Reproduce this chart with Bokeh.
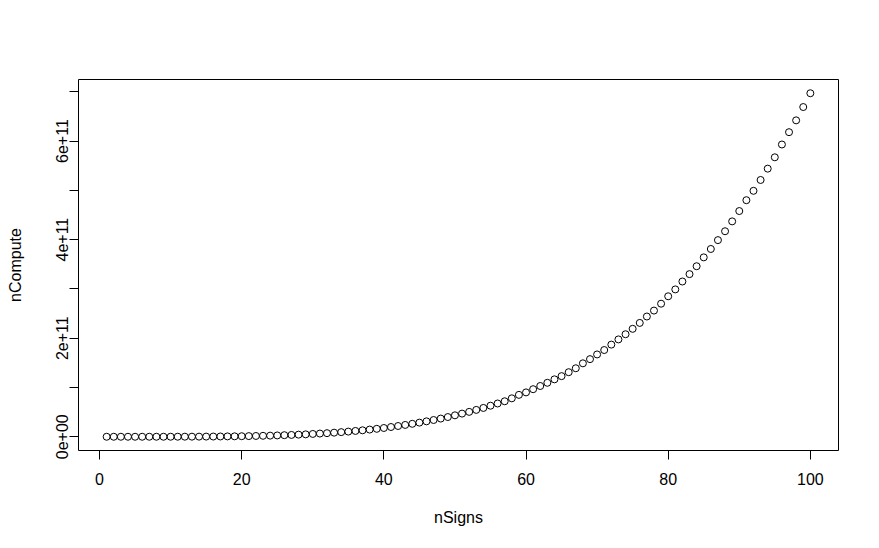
from bokeh.plotting import figure
from bokeh.models import ColumnDataSource, FixedTicker, Range1d
from bokeh.embed import file_html
from bokeh.resources import INLINE

# nSigns 1..100
n_signs = list(range(1, 101))
# nCompute, in units of 1e11
n_compute_e11 = [
    0.0, 0.0, 0.0, 0.0, 0.0001, 0.0001, 0.0002, 0.0003, 0.0005, 0.0007,
    0.001, 0.0015, 0.002, 0.0027, 0.0035, 0.0046, 0.0058, 0.0073, 0.009, 0.011,
    0.0135, 0.016, 0.0195, 0.023, 0.027, 0.032, 0.037, 0.043, 0.049, 0.057,
    0.065, 0.073, 0.083, 0.094, 0.105, 0.118, 0.131, 0.146, 0.161, 0.178,
    0.198, 0.218, 0.240, 0.263, 0.287, 0.313, 0.340, 0.369, 0.40, 0.435,
    0.47, 0.505, 0.545, 0.585, 0.63, 0.675, 0.72, 0.78, 0.85, 0.90,
    0.965, 1.03, 1.095, 1.165, 1.23, 1.31, 1.39, 1.49, 1.575, 1.67,
    1.76, 1.87, 1.975, 2.08, 2.19, 2.31, 2.44, 2.56, 2.70, 2.85,
    2.99, 3.15, 3.30, 3.46, 3.64, 3.81, 3.99, 4.17, 4.37, 4.58,
    4.80, 4.99, 5.21, 5.44, 5.67, 5.93, 6.18, 6.42, 6.69, 6.97,
]
n_compute = [v * 1e11 for v in n_compute_e11]

x_ticks = [0, 20, 40, 60, 80, 100]
y_ticks = [0.0, 1e11, 2e11, 3e11, 4e11, 5e11, 6e11, 7e11]
y_tick_labels = ["0e+00", "", "2e+11", "", "4e+11", "", "6e+11", ""]

FONT = "Liberation Sans"
FS = "16px"

xmin, xmax = min(n_signs), max(n_signs)
ymin, ymax = min(n_compute), max(n_compute)
xpad = 0.04 * (xmax - xmin)
ypad = 0.04 * (ymax - ymin)

p = figure(
    width=871, height=540,
    x_range=Range1d(xmin - xpad, xmax + xpad),
    y_range=Range1d(ymin - ypad, ymax + ypad),
    output_backend="svg", toolbar_location=None,
    min_border_left=78, min_border_right=33,
    min_border_top=79, min_border_bottom=90,
)
p.background_fill_color = "white"
p.border_fill_color = "white"
p.outline_line_color = "black"
p.outline_line_width = 1
p.xgrid.visible = False
p.ygrid.visible = False

src = ColumnDataSource(dict(x=n_signs, y=n_compute))
p.scatter("x", "y", source=src, marker="circle", size=7,
          fill_color=None, line_color="black", line_width=1)

for ax in (p.xaxis[0], p.yaxis[0]):
    ax.axis_line_color = None
    ax.major_tick_line_color = "black"
    ax.major_tick_in = 0
    ax.major_tick_out = 9
    ax.minor_tick_line_color = None
    ax.major_label_text_font = FONT
    ax.major_label_text_font_size = FS
    ax.major_label_text_color = "black"
    ax.axis_label_text_font = FONT
    ax.axis_label_text_font_size = FS
    ax.axis_label_text_font_style = "normal"
    ax.axis_label_text_color = "black"

p.xaxis[0].ticker = FixedTicker(ticks=x_ticks)
p.xaxis[0].major_label_standoff = 13
p.xaxis[0].axis_label = "nSigns"
p.xaxis[0].axis_label_standoff = 21

p.yaxis[0].ticker = FixedTicker(ticks=y_ticks)
p.yaxis[0].major_label_overrides = {t: l for t, l in zip(y_ticks, y_tick_labels)}
p.yaxis[0].major_label_orientation = "vertical"
p.yaxis[0].major_label_standoff = 1
p.yaxis[0].axis_label = "nCompute"
p.yaxis[0].axis_label_standoff = 30

open("out.html", "w").write(file_html(p, INLINE))
